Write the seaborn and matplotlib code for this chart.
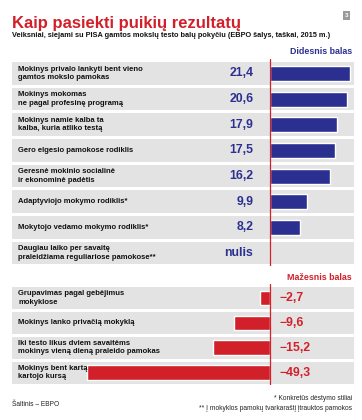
import numpy as np
import pandas as pd
import matplotlib
matplotlib.use("Agg")
import matplotlib.pyplot as plt
import seaborn as sns

sns.set_style("white")
plt.rcParams["font.family"] = ["Liberation Sans", "DejaVu Sans"]

# data
top_labels = [
    "Mokinys privalo lankyti bent vieno\ngamtos mokslo pamokas",
    "Mokinys mokomas\nne pagal profesinę programą",
    "Mokinys namie kalba ta\nkalba, kuria atliko testą",
    "Gero elgesio pamokose rodiklis",
    "Geresnė mokinio socialinė\nir ekonominė padėtis",
    "Adaptyviojo mokymo rodiklis*",
    "Mokytojo vedamo mokymo rodiklis*",
    "Daugiau laiko per savaitę\npraleidžiama reguliariose pamokose**",
]
top_values = [21.4, 20.6, 17.9, 17.5, 16.2, 9.9, 8.2, 0.0]
top_texts = ["21,4", "20,6", "17,9", "17,5", "16,2", "9,9", "8,2", "nulis"]

bottom_labels = [
    "Grupavimas pagal gebėjimus\nmokyklose",
    "Mokinys lanko privačią mokyklą",
    "Iki testo likus dviem savaitėms\nmokinys vieną dieną praleido pamokas",
    "Mokinys bent kartą\nkartojo kursą",
]
bottom_values = [-2.7, -9.6, -15.2, -49.3]
bottom_texts = ["\u22122,7", "\u22129,6", "\u221215,2", "\u221249,3"]

blue = "#2b3090"
red = "#d2202a"
rowbg = "#e3e3e3"

W, H = 362, 420
fig = plt.figure(figsize=(W / 100, H / 100), dpi=100)
fig.patch.set_facecolor("white")

def px_axes(x0, y0, x1, y1):
    return fig.add_axes([x0 / W, 1 - y1 / H, (x1 - x0) / W, (y1 - y0) / H])

xlim = (-69.4, 22.6)

def panel(ax, labels, values, texts, color, positive):
    df = pd.DataFrame({"label": labels, "value": values})
    n = len(labels)
    for i in range(n):
        ax.axhspan(i - 0.44, i + 0.44, color=rowbg, zorder=0, lw=0)
    sns.barplot(data=df, x="value", y="label", orient="h", color=color,
                width=0.58, saturation=1, ax=ax, zorder=2)
    ax.axvline(0, color=red, lw=0.9, zorder=3)
    ax.set_xlim(*xlim)
    ax.set_ylim(n - 0.5, -0.56)
    ax.axis("off")
    for i, (lab, t) in enumerate(zip(labels, texts)):
        ax.text(0.018, i, lab, transform=ax.get_yaxis_transform(),
                ha="left", va="center", fontsize=5.5, fontweight="bold",
                color="#111111", linespacing=1.3, zorder=4)
        if positive:
            ax.annotate(t, (0, i), xytext=(-12, 0), textcoords="offset points",
                        ha="right", va="center", fontsize=8.8,
                        fontweight="bold", color=color, zorder=4)
        else:
            ax.annotate(t, (0, i), xytext=(7, 0), textcoords="offset points",
                        ha="left", va="center", fontsize=8.8,
                        fontweight="bold", color=color, zorder=4)

ax1 = px_axes(12, 59, 354, 266)
panel(ax1, top_labels, top_values, top_texts, blue, True)
ax2 = px_axes(12, 284, 354, 385)
panel(ax2, bottom_labels, bottom_values, bottom_texts, red, False)

fig.text(12 / W, 1 - 28 / H, "Kaip pasiekti puikių rezultatų", ha="left",
         va="baseline", fontsize=12, fontweight="bold", color=red)
fig.text(12 / W, 1 - 37 / H,
         "Veiksniai, siejami su PISA gamtos mokslų testo balų pokyčiu (EBPO šalys, taškai, 2015 m.)",
         ha="left", va="baseline", fontsize=5.3, fontweight="bold", color="#111111")
fig.text(352 / W, 1 - 52 / H, "Didesnis balas", ha="right", va="center",
         fontsize=6.4, fontweight="bold", color=blue)
fig.text(352 / W, 1 - 277 / H, "Mažesnis balas", ha="right", va="center",
         fontsize=6.4, fontweight="bold", color=red)
fig.text(352 / W, 1 - 398 / H, "* Konkretūs dėstymo stiliai", ha="right",
         va="center", fontsize=4.8, color="#222222")
fig.text(352 / W, 1 - 409 / H, "** Į mokyklos pamokų tvarkaraštį įtrauktos pamokos",
         ha="right", va="center", fontsize=4.8, color="#222222")
fig.text(12 / W, 1 - 404 / H, "Šaltinis – EBPO", ha="left", va="center",
         fontsize=4.8, color="#222222")
fig.text(346.5 / W, 1 - 15.5 / H, "3", ha="center", va="center", fontsize=4.5,
         fontweight="bold", color="white",
         bbox=dict(boxstyle="square,pad=0.25", fc="#9a9a9a", ec="none"))

fig.savefig("out.png", dpi=100)
